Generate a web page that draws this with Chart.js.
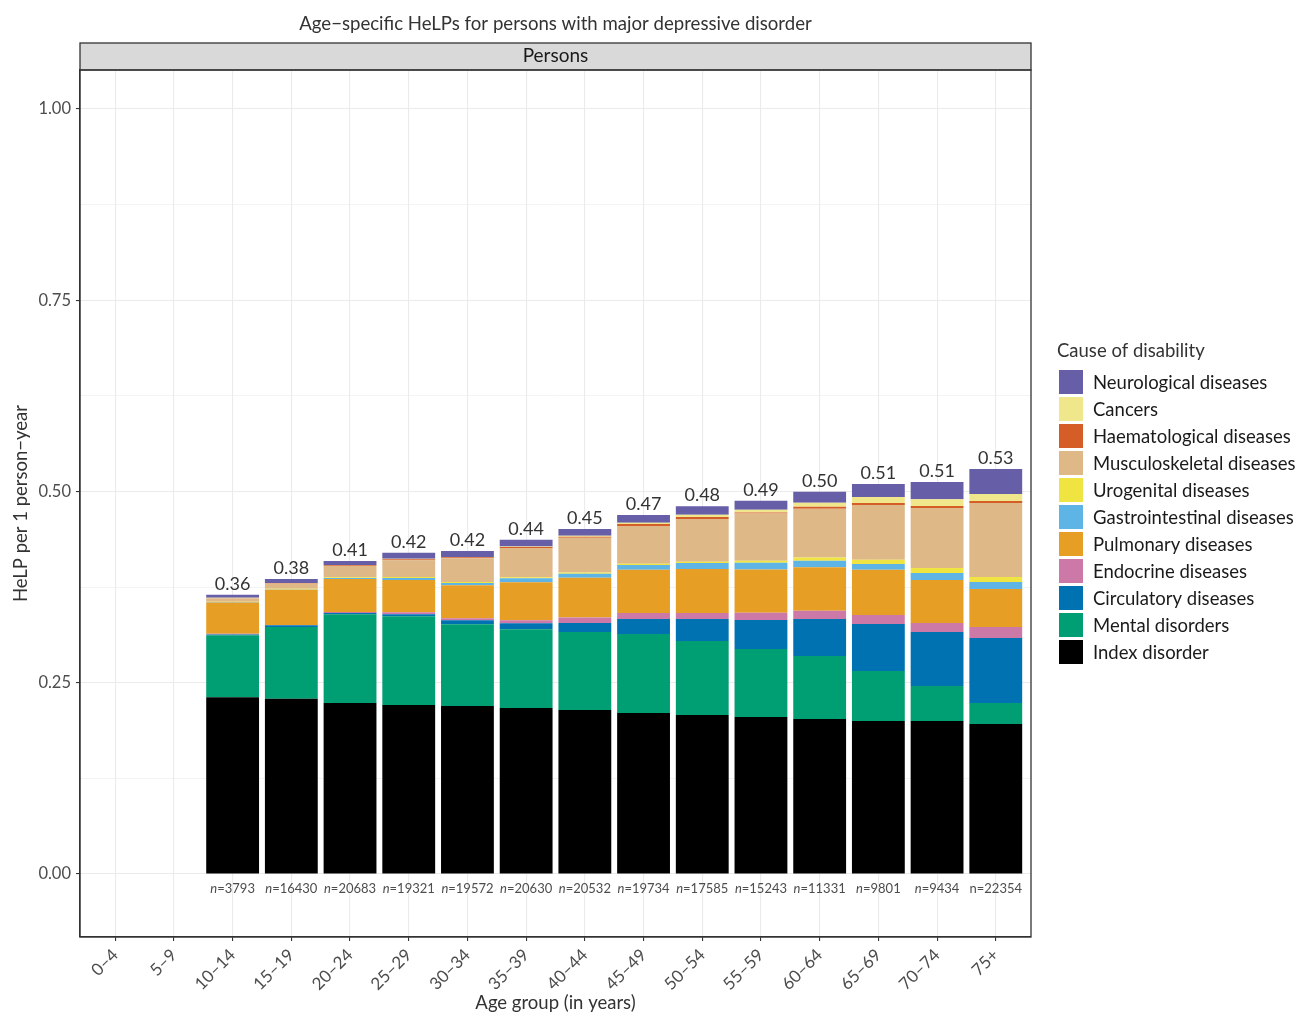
<!DOCTYPE html>
<html>
<head>
<meta charset="utf-8">
<script src="https://cdn.jsdelivr.net/npm/chart.js@4.4.1/dist/chart.umd.min.js"></script>
<style>
  body { margin: 0; background: #fff; }
  #wrap { width: 1301px; height: 1014px; }
</style>
</head>
<body>
<div id="wrap"><canvas id="myChart" width="1301" height="1014"></canvas></div>
<script>
// age groups on the x axis
var ageGroups = ['0\u20134', '5\u20139', '10\u201314', '15\u201319', '20\u201324', '25\u201329', '30\u201334', '35\u201339',
  '40\u201344', '45\u201349', '50\u201354', '55\u201359', '60\u201364', '65\u201369', '70\u201374', '75+'];

// values per cause, one per age group (no data for 0-4 and 5-9)
var indexDisorder = [null, null, 0.231, 0.229, 0.2235, 0.221, 0.2196, 0.217, 0.2144, 0.2105, 0.2078, 0.2052, 0.2026, 0.200, 0.200, 0.196];
var mental = [null, null, 0.081, 0.094, 0.116, 0.116, 0.107, 0.103, 0.102, 0.1033, 0.0967, 0.0889, 0.0824, 0.0654, 0.0458, 0.0275];
var circulatory = [null, null, 0.001, 0.002, 0.0015, 0.0026, 0.0052, 0.0078, 0.0118, 0.0196, 0.0288, 0.0379, 0.0484, 0.0614, 0.0706, 0.085];
var endocrine = [null, null, 0.001, 0.0005, 0.0015, 0.0026, 0.0026, 0.004, 0.007, 0.0078, 0.0078, 0.0095, 0.0108, 0.0118, 0.0118, 0.0144];
var pulmonary = [null, null, 0.041, 0.046, 0.043, 0.042, 0.043, 0.0497, 0.052, 0.0566, 0.0575, 0.0566, 0.0566, 0.0592, 0.0562, 0.0497];
var gastro = [null, null, 0.0005, 0.0005, 0.0015, 0.0026, 0.003, 0.0052, 0.0052, 0.0061, 0.0078, 0.0087, 0.0087, 0.0074, 0.0092, 0.0092];
var urogenital = [null, null, 0.0005, 0.001, 0.001, 0.0013, 0.0013, 0.0013, 0.0017, 0.0017, 0.0017, 0.0026, 0.0043, 0.0056, 0.0065, 0.0065];
var musculo = [null, null, 0.004, 0.0065, 0.0145, 0.022, 0.031, 0.038, 0.0454, 0.0493, 0.0558, 0.0618, 0.0636, 0.0715, 0.0784, 0.0967];
var haemato = [null, null, 0.0005, 0.0005, 0.001, 0.0013, 0.0013, 0.0013, 0.0013, 0.0026, 0.0026, 0.0013, 0.0026, 0.0026, 0.0026, 0.0026];
var cancers = [null, null, 0.0005, 0.0005, 0.0005, 0.0007, 0.0005, 0.0007, 0.0013, 0.0017, 0.003, 0.0035, 0.0052, 0.0078, 0.0087, 0.0092];
var neuro = [null, null, 0.004, 0.005, 0.005, 0.0078, 0.0078, 0.009, 0.0088, 0.010, 0.0113, 0.0118, 0.0144, 0.017, 0.0227, 0.0327];

// printed totals and sample sizes
var totals = [null, null, '0.36', '0.38', '0.41', '0.42', '0.42', '0.44', '0.45', '0.47', '0.48', '0.49', '0.50', '0.51', '0.51', '0.53'];
var nCounts = [null, null, 3793, 16430, 20683, 19321, 19572, 20630, 20532, 19734, 17585, 15243, 11331, 9801, 9434, 22354];

var yTicks = [0, 0.125, 0.25, 0.375, 0.5, 0.625, 0.75, 0.875, 1];

// bottom of stack first
var causes = [
  ['Index disorder', indexDisorder, '#000000'],
  ['Mental disorders', mental, '#009e73'],
  ['Circulatory diseases', circulatory, '#0072b2'],
  ['Endocrine diseases', endocrine, '#cc79a7'],
  ['Pulmonary diseases', pulmonary, '#e69f24'],
  ['Gastrointestinal diseases', gastro, '#5db4e5'],
  ['Urogenital diseases', urogenital, '#f0e442'],
  ['Musculoskeletal diseases', musculo, '#deb887'],
  ['Haematological diseases', haemato, '#d55e28'],
  ['Cancers', cancers, '#f0e68c'],
  ['Neurological diseases', neuro, '#675ea8']
];

var FONT = 'Lato, "Open Sans", sans-serif';

function isMajor(v) { return Math.abs(v * 4 - Math.round(v * 4)) < 1e-6; }

var datasets = causes.map(function (c) {
  var pts = [];
  c[1].forEach(function (v, i) { if (v !== null) pts.push({ x: i + 1, y: v }); });
  return { label: c[0], data: pts, backgroundColor: c[2], borderWidth: 0, barPercentage: 0.9, categoryPercentage: 1.0 };
});

var decor = {
  id: 'decor',
  afterDraw: function (chart) {
    var ctx = chart.ctx, a = chart.chartArea;
    var xs = chart.scales.x, ys = chart.scales.y;
    var cx = (a.left + a.right) / 2;
    ctx.save();

    // title
    ctx.fillStyle = '#333';
    ctx.font = '18.6px ' + FONT;
    ctx.textAlign = 'center';
    ctx.textBaseline = 'middle';
    ctx.fillText('Age\u2212specific HeLPs for persons with major depressive disorder', cx, 24);

    // facet strip
    ctx.fillStyle = '#d9d9d9';
    ctx.fillRect(a.left, 43, a.right - a.left, a.top - 43);
    ctx.strokeStyle = '#333';
    ctx.lineWidth = 1.3;
    ctx.strokeRect(a.left, 43, a.right - a.left, a.top - 43);
    ctx.fillStyle = '#1a1a1a';
    ctx.font = '19px ' + FONT;
    ctx.fillText('Persons', cx, 56);

    // panel border
    ctx.strokeRect(a.left, a.top, a.right - a.left, a.bottom - a.top);

    // totals above bars, n below
    for (var i = 0; i < ageGroups.length; i++) {
      if (totals[i] === null) continue;
      var sum = 0;
      causes.forEach(function (c) { sum += c[1][i]; });
      var px = xs.getPixelForValue(i + 1);
      ctx.fillStyle = '#333';
      ctx.font = '18px ' + FONT;
      ctx.textAlign = 'center';
      ctx.textBaseline = 'alphabetic';
      ctx.fillText(totals[i], px, ys.getPixelForValue(sum) - 5);

      ctx.fillStyle = '#4d4d4d';
      ctx.textBaseline = 'middle';
      var rest = '=' + nCounts[i];
      var italicN = i < ageGroups.length - 1;
      ctx.font = (italicN ? 'italic ' : '') + '13px ' + FONT;
      var w1 = ctx.measureText('n').width;
      ctx.font = '13px ' + FONT;
      var w2 = ctx.measureText(rest).width;
      var sx = px - (w1 + w2) / 2;
      ctx.textAlign = 'left';
      ctx.font = (italicN ? 'italic ' : '') + '13px ' + FONT;
      ctx.fillText('n', sx, 889);
      ctx.font = '13px ' + FONT;
      ctx.fillText(rest, sx + w1, 889);
    }

    // axis titles
    ctx.fillStyle = '#333';
    ctx.font = '18.5px ' + FONT;
    ctx.textAlign = 'center';
    ctx.textBaseline = 'middle';
    ctx.fillText('Age group (in years)', cx, 1003);
    ctx.save();
    ctx.translate(21, (a.top + a.bottom) / 2);
    ctx.rotate(-Math.PI / 2);
    ctx.fillText('HeLP per 1 person\u2212year', 0, 0);
    ctx.restore();

    // legend
    ctx.textAlign = 'left';
    ctx.fillText('Cause of disability', 1057, 351);
    ctx.font = '18.5px ' + FONT;
    for (var k = causes.length - 1, row = 0; k >= 0; k--, row++) {
      var yc = 382 + row * 27;
      ctx.fillStyle = causes[k][2];
      ctx.fillRect(1059, yc - 12, 24, 24);
      ctx.fillStyle = '#1a1a1a';
      ctx.fillText(causes[k][0], 1093, yc + 1);
    }
    ctx.restore();
  }
};

new Chart(document.getElementById('myChart'), {
  type: 'bar',
  data: { datasets: datasets },
  options: {
    responsive: false,
    animation: false,
    layout: { padding: { left: 0, right: 270, top: 70, bottom: 0 } },
    plugins: { legend: { display: false }, tooltip: { enabled: false }, title: { display: false } },
    scales: {
      x: {
        type: 'linear',
        min: 0.4,
        max: 16.6,
        stacked: true,
        offset: false,
        afterBuildTicks: function (s) { s.ticks = ageGroups.map(function (_, i) { return { value: i + 1 }; }); },
        afterFit: function (s) { s.height = 77; },
        ticks: {
          callback: function (v) { return ageGroups[Math.round(v) - 1]; },
          maxRotation: 45,
          minRotation: 45,
          autoSkip: false,
          padding: 4,
          color: '#4d4d4d',
          font: { family: FONT, size: 17 }
        },
        grid: { offset: false, color: '#ebebeb', lineWidth: 1.1, tickLength: 4, tickColor: '#333' },
        border: { display: true, color: '#333', width: 1.3 }
      },
      y: {
        min: -0.0824,
        max: 1.051,
        stacked: true,
        afterBuildTicks: function (s) { s.ticks = yTicks.map(function (v) { return { value: v }; }); },
        afterFit: function (s) { s.width = 80; },
        ticks: {
          callback: function (v) { return isMajor(v) ? v.toFixed(2) : ''; },
          padding: 5,
          color: '#4d4d4d',
          font: { family: FONT, size: 16.5 }
        },
        grid: {
          color: '#ebebeb',
          lineWidth: function (c) { return c.tick && isMajor(c.tick.value) ? 1.1 : 0.6; },
          tickLength: 4,
          tickColor: function (c) { return c.tick && isMajor(c.tick.value) ? '#333' : 'rgba(0,0,0,0)'; }
        },
        border: { display: true, color: '#333', width: 1.3 }
      }
    }
  },
  plugins: [decor]
});
</script>
</body>
</html>
